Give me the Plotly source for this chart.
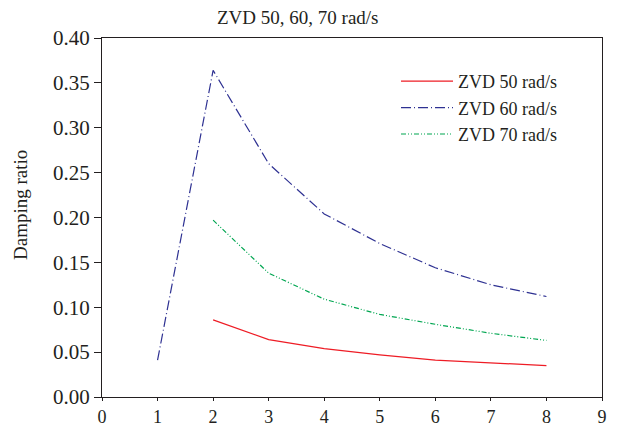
import plotly.graph_objects as go

x50 = [2, 3, 4, 5, 6, 7, 8]
y50 = [0.086, 0.064, 0.054, 0.047, 0.041, 0.038, 0.035]
x60 = [1, 2, 3, 4, 5, 6, 7, 8]
y60 = [0.041, 0.364, 0.260, 0.204, 0.171, 0.144, 0.125, 0.112]
x70 = [2, 3, 4, 5, 6, 7, 8]
y70 = [0.197, 0.138, 0.109, 0.092, 0.081, 0.071, 0.063]

font_family = "Liberation Serif, Times New Roman, serif"
ink = "#231f20"

L, R, T, B = 102, 17, 38, 33
W, H = 619, 430
pw = W - L - R
ph = H - T - B

fig = go.Figure()
fig.add_trace(go.Scatter(x=x50, y=y50, mode="lines", name="ZVD 50 rad/s",
                         line=dict(color="#ee1c25", width=1.2)))
fig.add_trace(go.Scatter(x=x60, y=y60, mode="lines", name="ZVD 60 rad/s",
                         line=dict(color="#2e3192", width=1.2, dash="10px,3px,1px,3px")))
fig.add_trace(go.Scatter(x=x70, y=y70, mode="lines", name="ZVD 70 rad/s",
                         line=dict(color="#00a651", width=1.2, dash="5px,2px,1px,2px,1px,2px")))

fig.add_annotation(text="ZVD 50, 60, 70 rad/s", xref="paper", yref="paper",
                   x=(297 - L) / pw, y=1 + (T - 17) / ph, xanchor="center", yanchor="middle",
                   showarrow=False, font=dict(size=19, color=ink))
fig.add_annotation(text="Damping ratio", xref="paper", yref="paper",
                   x=(20 - L) / pw, y=(H - B - 205) / ph, xanchor="center", yanchor="middle",
                   textangle=-90, showarrow=False, font=dict(size=19, color=ink))

fig.update_layout(
    width=W, height=H,
    margin=dict(l=L, r=R, t=T, b=B),
    paper_bgcolor="white", plot_bgcolor="white",
    font=dict(family=font_family, size=20, color=ink),
    showlegend=True,
    legend=dict(x=(396 - L) / pw, y=1 - (63 - T) / ph, xanchor="left", yanchor="top",
                bgcolor="rgba(0,0,0,0)", font=dict(size=18), tracegroupgap=0, itemwidth=52),
    xaxis=dict(range=[0, 9], tickvals=list(range(10)), showline=True, linecolor=ink,
               linewidth=1, mirror=True, ticks="outside", ticklen=3, tickcolor=ink,
               tickfont=dict(size=18), ticklabelstandoff=0,
               showgrid=False, zeroline=False, automargin=False),
    yaxis=dict(range=[0, 0.40], tickvals=[i * 0.05 for i in range(9)], tickformat=".2f",
               showline=True, linecolor=ink, linewidth=1, mirror=True, ticks="outside",
               ticklen=7, tickcolor=ink, tickfont=dict(size=21),
               showgrid=False, zeroline=False, automargin=False),
)

fig.write_html("out.html")
